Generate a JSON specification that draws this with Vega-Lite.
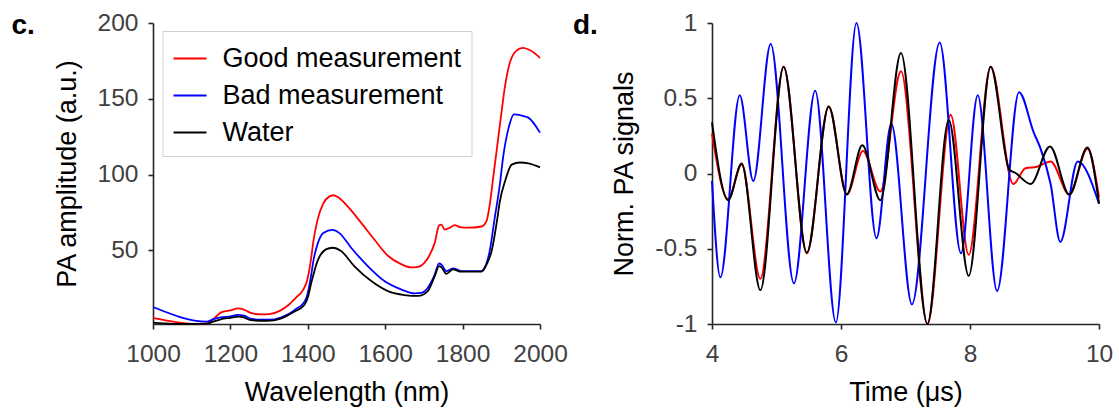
{
  "$schema": "https://vega.github.io/schema/vega-lite/v6.json",
  "background": "white",
  "padding": {"left": 11, "top": 10, "right": 5, "bottom": 5},
  "bounds": "flush",
  "spacing": 172,
  "config": {
    "font": "Liberation Sans",
    "view": {"stroke": null},
    "axis": {
      "domainColor": "#262626", "domainWidth": 1.6,
      "tickColor": "#262626", "tickWidth": 1.6, "tickSize": 5,
      "labelFont": "Liberation Sans", "labelFontSize": 24.5, "labelColor": "#404040", "labelPadding": 10,
      "labelOverlap": false, "labelBound": false, "labelFlush": false,
      "titleFont": "Liberation Sans", "titleFontSize": 27, "titleFontWeight": "normal", "titleColor": "#000000",
      "grid": false
    },
    "axisX": {"labelPadding": 13, "titlePadding": 14},
    "axisY": {"titlePadding": 16}
  },
  "resolve": {"scale": {"color": "independent"}, "legend": {"color": "independent"}},
  "hconcat": [
    {
      "width": 387,
      "height": 301,
      "title": {"text": "c.", "anchor": "start", "frame": "group", "dx": -141.5, "dy": 22, "offset": -30, "baseline": "alphabetic", "fontSize": 28, "fontWeight": "bold", "color": "#000000", "font": "Liberation Sans"},
      "data": {"values": [
        {"s": "Good measurement", "wl": 1000, "a": 5.5}, {"s": "Good measurement", "wl": 1040, "a": 3.5}, {"s": "Good measurement", "wl": 1080, "a": 2.0}, {"s": "Good measurement", "wl": 1100, "a": 1.6}, {"s": "Good measurement", "wl": 1140, "a": 1.7}, {"s": "Good measurement", "wl": 1155, "a": 4.5}, {"s": "Good measurement", "wl": 1175, "a": 9.0}, {"s": "Good measurement", "wl": 1200, "a": 10.5}, {"s": "Good measurement", "wl": 1220, "a": 11.8}, {"s": "Good measurement", "wl": 1235, "a": 11.0}, {"s": "Good measurement", "wl": 1255, "a": 8.6}, {"s": "Good measurement", "wl": 1280, "a": 7.8}, {"s": "Good measurement", "wl": 1300, "a": 8.0}, {"s": "Good measurement", "wl": 1330, "a": 10.5}, {"s": "Good measurement", "wl": 1350, "a": 14}, {"s": "Good measurement", "wl": 1370, "a": 19}, {"s": "Good measurement", "wl": 1388, "a": 24}, {"s": "Good measurement", "wl": 1398, "a": 30}, {"s": "Good measurement", "wl": 1407, "a": 42}, {"s": "Good measurement", "wl": 1415, "a": 57}, {"s": "Good measurement", "wl": 1425, "a": 70}, {"s": "Good measurement", "wl": 1440, "a": 81}, {"s": "Good measurement", "wl": 1455, "a": 85.5}, {"s": "Good measurement", "wl": 1466, "a": 86.4}, {"s": "Good measurement", "wl": 1481, "a": 84.6}, {"s": "Good measurement", "wl": 1503, "a": 79}, {"s": "Good measurement", "wl": 1538, "a": 68.2}, {"s": "Good measurement", "wl": 1572, "a": 57.2}, {"s": "Good measurement", "wl": 1607, "a": 46.5}, {"s": "Good measurement", "wl": 1641, "a": 41}, {"s": "Good measurement", "wl": 1667, "a": 38.8}, {"s": "Good measurement", "wl": 1685, "a": 39.2}, {"s": "Good measurement", "wl": 1700, "a": 41.5}, {"s": "Good measurement", "wl": 1715, "a": 47}, {"s": "Good measurement", "wl": 1728, "a": 55}, {"s": "Good measurement", "wl": 1739, "a": 66.5}, {"s": "Good measurement", "wl": 1745, "a": 67}, {"s": "Good measurement", "wl": 1754, "a": 63.8}, {"s": "Good measurement", "wl": 1767, "a": 65}, {"s": "Good measurement", "wl": 1780, "a": 66.7}, {"s": "Good measurement", "wl": 1793, "a": 65.4}, {"s": "Good measurement", "wl": 1814, "a": 65}, {"s": "Good measurement", "wl": 1849, "a": 65.8}, {"s": "Good measurement", "wl": 1862, "a": 69.5}, {"s": "Good measurement", "wl": 1870, "a": 80}, {"s": "Good measurement", "wl": 1880, "a": 100}, {"s": "Good measurement", "wl": 1890, "a": 120}, {"s": "Good measurement", "wl": 1900, "a": 140}, {"s": "Good measurement", "wl": 1910, "a": 159}, {"s": "Good measurement", "wl": 1920, "a": 172}, {"s": "Good measurement", "wl": 1938, "a": 181.5}, {"s": "Good measurement", "wl": 1956, "a": 183.6}, {"s": "Good measurement", "wl": 1975, "a": 182}, {"s": "Good measurement", "wl": 2000, "a": 177},
        {"s": "Bad measurement", "wl": 1000, "a": 12.7}, {"s": "Bad measurement", "wl": 1140, "a": 3.1}, {"s": "Bad measurement", "wl": 1155, "a": 4.5}, {"s": "Bad measurement", "wl": 1175, "a": 5.8}, {"s": "Bad measurement", "wl": 1200, "a": 6.5}, {"s": "Bad measurement", "wl": 1220, "a": 7.5}, {"s": "Bad measurement", "wl": 1235, "a": 7.0}, {"s": "Bad measurement", "wl": 1255, "a": 4.8}, {"s": "Bad measurement", "wl": 1280, "a": 4.3}, {"s": "Bad measurement", "wl": 1300, "a": 4.3}, {"s": "Bad measurement", "wl": 1330, "a": 5.8}, {"s": "Bad measurement", "wl": 1350, "a": 8}, {"s": "Bad measurement", "wl": 1370, "a": 11.5}, {"s": "Bad measurement", "wl": 1388, "a": 15}, {"s": "Bad measurement", "wl": 1398, "a": 20}, {"s": "Bad measurement", "wl": 1407, "a": 31}, {"s": "Bad measurement", "wl": 1415, "a": 44}, {"s": "Bad measurement", "wl": 1425, "a": 54}, {"s": "Bad measurement", "wl": 1440, "a": 61.5}, {"s": "Bad measurement", "wl": 1464, "a": 63.6}, {"s": "Bad measurement", "wl": 1481, "a": 61.6}, {"s": "Bad measurement", "wl": 1512, "a": 51.8}, {"s": "Bad measurement", "wl": 1555, "a": 39.7}, {"s": "Bad measurement", "wl": 1598, "a": 29.8}, {"s": "Bad measurement", "wl": 1641, "a": 24.3}, {"s": "Bad measurement", "wl": 1676, "a": 21.7}, {"s": "Bad measurement", "wl": 1693, "a": 22}, {"s": "Bad measurement", "wl": 1710, "a": 25.4}, {"s": "Bad measurement", "wl": 1728, "a": 34}, {"s": "Bad measurement", "wl": 1739, "a": 41.4}, {"s": "Bad measurement", "wl": 1745, "a": 40.8}, {"s": "Bad measurement", "wl": 1758, "a": 36.4}, {"s": "Bad measurement", "wl": 1775, "a": 38.2}, {"s": "Bad measurement", "wl": 1784, "a": 37.6}, {"s": "Bad measurement", "wl": 1797, "a": 36.4}, {"s": "Bad measurement", "wl": 1849, "a": 36.4}, {"s": "Bad measurement", "wl": 1857, "a": 38.6}, {"s": "Bad measurement", "wl": 1870, "a": 49.6}, {"s": "Bad measurement", "wl": 1883, "a": 71.5}, {"s": "Bad measurement", "wl": 1896, "a": 93}, {"s": "Bad measurement", "wl": 1905, "a": 112}, {"s": "Bad measurement", "wl": 1919, "a": 131}, {"s": "Bad measurement", "wl": 1933, "a": 139.8}, {"s": "Bad measurement", "wl": 1956, "a": 138.7}, {"s": "Bad measurement", "wl": 1970, "a": 137.6}, {"s": "Bad measurement", "wl": 2000, "a": 127.7},
        {"s": "Water", "wl": 1000, "a": 2.4}, {"s": "Water", "wl": 1050, "a": 1.6}, {"s": "Water", "wl": 1100, "a": 1.5}, {"s": "Water", "wl": 1140, "a": 1.7}, {"s": "Water", "wl": 1155, "a": 3.0}, {"s": "Water", "wl": 1175, "a": 4.6}, {"s": "Water", "wl": 1200, "a": 5.6}, {"s": "Water", "wl": 1220, "a": 6.4}, {"s": "Water", "wl": 1235, "a": 5.8}, {"s": "Water", "wl": 1252, "a": 4.0}, {"s": "Water", "wl": 1296, "a": 3.5}, {"s": "Water", "wl": 1330, "a": 5.0}, {"s": "Water", "wl": 1365, "a": 9.6}, {"s": "Water", "wl": 1391, "a": 14}, {"s": "Water", "wl": 1400, "a": 19}, {"s": "Water", "wl": 1408, "a": 27.6}, {"s": "Water", "wl": 1425, "a": 43}, {"s": "Water", "wl": 1447, "a": 50.7}, {"s": "Water", "wl": 1464, "a": 51.8}, {"s": "Water", "wl": 1486, "a": 49.6}, {"s": "Water", "wl": 1520, "a": 39.7}, {"s": "Water", "wl": 1564, "a": 29.8}, {"s": "Water", "wl": 1607, "a": 23.2}, {"s": "Water", "wl": 1650, "a": 20.6}, {"s": "Water", "wl": 1685, "a": 20}, {"s": "Water", "wl": 1710, "a": 23.2}, {"s": "Water", "wl": 1728, "a": 33}, {"s": "Water", "wl": 1739, "a": 39.7}, {"s": "Water", "wl": 1745, "a": 39}, {"s": "Water", "wl": 1758, "a": 34.6}, {"s": "Water", "wl": 1775, "a": 37.5}, {"s": "Water", "wl": 1797, "a": 36}, {"s": "Water", "wl": 1849, "a": 36}, {"s": "Water", "wl": 1862, "a": 40.8}, {"s": "Water", "wl": 1875, "a": 49.6}, {"s": "Water", "wl": 1890, "a": 71.5}, {"s": "Water", "wl": 1896, "a": 82}, {"s": "Water", "wl": 1910, "a": 96}, {"s": "Water", "wl": 1927, "a": 106.6}, {"s": "Water", "wl": 1948, "a": 108}, {"s": "Water", "wl": 1970, "a": 107.5}, {"s": "Water", "wl": 2000, "a": 104.8}
      ]},
      "mark": {"type": "line", "strokeWidth": 1.8, "interpolate": "monotone"},
      "encoding": {
        "x": {"field": "wl", "type": "quantitative", "scale": {"domain": [1000, 2000], "nice": false, "zero": false}, "axis": {"values": [1000, 1200, 1400, 1600, 1800, 2000], "labelExpr": "toString(datum.value)", "title": "Wavelength (nm)"}},
        "y": {"field": "a", "type": "quantitative", "scale": {"domain": [1.5, 200], "nice": false, "zero": false}, "axis": {"values": [50, 100, 150, 200], "labelExpr": "toString(datum.value)", "title": "PA amplitude (a.u.)"}},
        "color": {"field": "s", "type": "nominal", "scale": {"domain": ["Good measurement", "Bad measurement", "Water"], "range": ["#ff0000", "#0000ff", "#000000"]},
          "legend": {"title": null, "orient": "none", "legendX": 9.5, "legendY": 8, "symbolType": "stroke", "symbolSize": 1089, "symbolStrokeWidth": 2, "labelFontSize": 27, "labelFont": "Liberation Sans", "labelColor": "#000000", "labelOffset": 15, "padding": 10, "rowPadding": 6, "strokeColor": "#d0d0d0", "fillColor": "#ffffff", "labelLimit": 400}}
      }
    },
    {
      "width": 387,
      "height": 301,
      "title": {"text": "d.", "anchor": "start", "frame": "group", "dx": -139, "dy": 22, "offset": -30, "baseline": "alphabetic", "fontSize": 28, "fontWeight": "bold", "color": "#000000", "font": "Liberation Sans"},
      "layer": [
        {
          "data": {"values": [
            {"s": "Good measurement", "t": 4.0, "v": 0.265}, {"s": "Good measurement", "t": 4.25, "v": -0.17}, {"s": "Good measurement", "t": 4.46, "v": 0.06}, {"s": "Good measurement", "t": 4.75, "v": -0.70}, {"s": "Good measurement", "t": 5.11, "v": 0.71}, {"s": "Good measurement", "t": 5.47, "v": -0.53}, {"s": "Good measurement", "t": 5.81, "v": 0.446}, {"s": "Good measurement", "t": 6.09, "v": -0.14}, {"s": "Good measurement", "t": 6.34, "v": 0.15}, {"s": "Good measurement", "t": 6.61, "v": -0.12}, {"s": "Good measurement", "t": 6.93, "v": 0.68}, {"s": "Good measurement", "t": 7.34, "v": -1.0}, {"s": "Good measurement", "t": 7.70, "v": 0.39}, {"s": "Good measurement", "t": 7.98, "v": -0.54}, {"s": "Good measurement", "t": 8.32, "v": 0.71}, {"s": "Good measurement", "t": 8.67, "v": -0.07}, {"s": "Good measurement", "t": 8.86, "v": 0.035}, {"s": "Good measurement", "t": 9.04, "v": 0.045}, {"s": "Good measurement", "t": 9.25, "v": 0.08}, {"s": "Good measurement", "t": 9.54, "v": -0.14}, {"s": "Good measurement", "t": 9.82, "v": 0.165}, {"s": "Good measurement", "t": 10.0, "v": -0.16},
            {"s": "Bad measurement", "t": 4.0, "v": -0.05}, {"s": "Bad measurement", "t": 4.13, "v": -0.69}, {"s": "Bad measurement", "t": 4.43, "v": 0.52}, {"s": "Bad measurement", "t": 4.64, "v": -0.05}, {"s": "Bad measurement", "t": 4.91, "v": 0.86}, {"s": "Bad measurement", "t": 5.27, "v": -0.73}, {"s": "Bad measurement", "t": 5.60, "v": 0.55}, {"s": "Bad measurement", "t": 5.92, "v": -0.99}, {"s": "Bad measurement", "t": 6.24, "v": 1.0}, {"s": "Bad measurement", "t": 6.55, "v": -0.43}, {"s": "Bad measurement", "t": 6.78, "v": 0.33}, {"s": "Bad measurement", "t": 7.10, "v": -0.87}, {"s": "Bad measurement", "t": 7.53, "v": 0.87}, {"s": "Bad measurement", "t": 7.86, "v": -0.53}, {"s": "Bad measurement", "t": 8.12, "v": 0.52}, {"s": "Bad measurement", "t": 8.42, "v": -0.78}, {"s": "Bad measurement", "t": 8.76, "v": 0.54}, {"s": "Bad measurement", "t": 8.99, "v": 0.27}, {"s": "Bad measurement", "t": 9.09, "v": 0.17}, {"s": "Bad measurement", "t": 9.25, "v": -0.07}, {"s": "Bad measurement", "t": 9.40, "v": -0.455}, {"s": "Bad measurement", "t": 9.67, "v": 0.08}, {"s": "Bad measurement", "t": 10.0, "v": -0.2},
            {"s": "Water", "t": 4.0, "v": 0.34}, {"s": "Water", "t": 4.25, "v": -0.177}, {"s": "Water", "t": 4.46, "v": 0.066}, {"s": "Water", "t": 4.75, "v": -0.776}, {"s": "Water", "t": 5.11, "v": 0.71}, {"s": "Water", "t": 5.47, "v": -0.526}, {"s": "Water", "t": 5.81, "v": 0.446}, {"s": "Water", "t": 6.09, "v": -0.139}, {"s": "Water", "t": 6.33, "v": 0.188}, {"s": "Water", "t": 6.61, "v": -0.177}, {"s": "Water", "t": 6.93, "v": 0.80}, {"s": "Water", "t": 7.34, "v": -1.0}, {"s": "Water", "t": 7.67, "v": 0.355}, {"s": "Water", "t": 7.98, "v": -0.68}, {"s": "Water", "t": 8.32, "v": 0.71}, {"s": "Water", "t": 8.61, "v": 0.025}, {"s": "Water", "t": 8.70, "v": 0.005}, {"s": "Water", "t": 8.94, "v": -0.07}, {"s": "Water", "t": 9.24, "v": 0.18}, {"s": "Water", "t": 9.54, "v": -0.14}, {"s": "Water", "t": 9.82, "v": 0.172}, {"s": "Water", "t": 10.0, "v": -0.2}
          ]},
          "mark": {"type": "line", "strokeWidth": 2, "interpolate": "monotone"},
          "encoding": {
            "x": {"field": "t", "type": "quantitative", "scale": {"domain": [4, 10], "nice": false, "zero": false}, "axis": {"values": [4, 6, 8, 10], "labelExpr": "toString(datum.value)", "title": "Time (μs)"}},
            "y": {"field": "v", "type": "quantitative", "scale": {"domain": [-1, 1], "nice": false, "zero": false}, "axis": {"values": [-1, -0.5, 0, 0.5, 1], "labelExpr": "toString(datum.value)", "title": "Norm. PA signals"}},
            "color": {"field": "s", "type": "nominal", "scale": {"domain": ["Good measurement", "Bad measurement", "Water"], "range": ["#ff0000", "#0000ff", "#000000"]}, "legend": null}
          }
        },
        {
          "mark": {"type": "rule", "color": "#000000", "strokeWidth": 2, "strokeDash": [7, 5]},
          "encoding": {"y": {"datum": 0}}
        }
      ]
    }
  ]
}
